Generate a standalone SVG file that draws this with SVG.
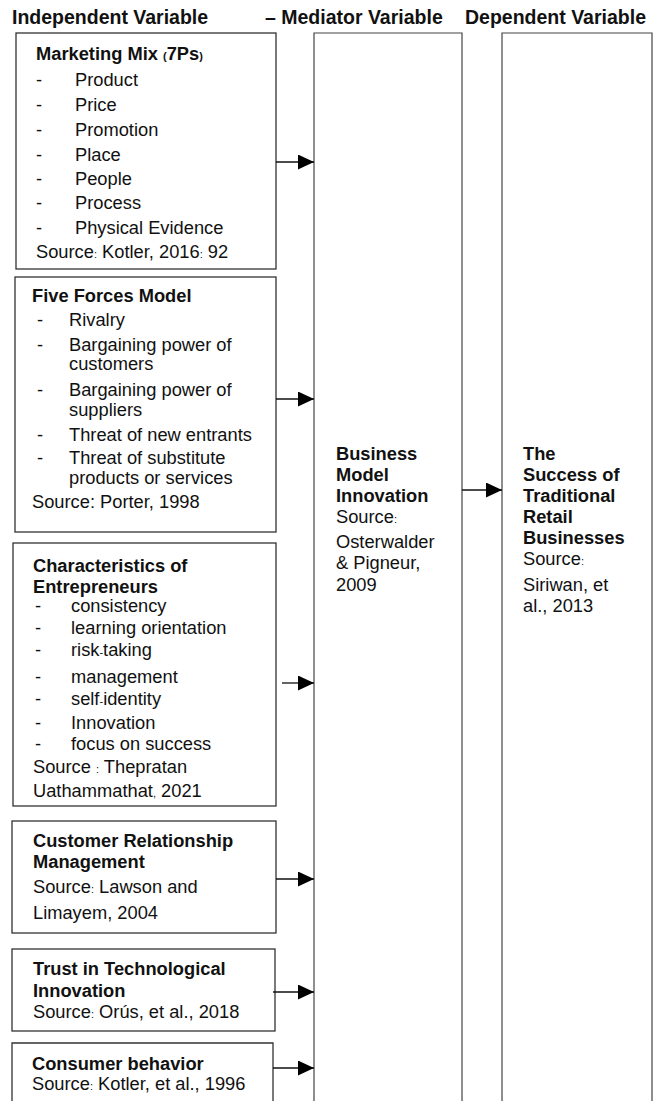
<svg xmlns="http://www.w3.org/2000/svg" width="657" height="1101" viewBox="0 0 657 1101">
  <style>
    text { font-family: "Liberation Sans", Arial, sans-serif; font-size: 18.3px; fill: #111; }
    .hd { font-size: 19.5px; font-weight: bold; }
    .b { font-weight: bold; }
    .sm { font-size: 11px; }
    .box { fill: #fff; stroke: #333; stroke-width: 1.3; }
    .col { fill: none; stroke: #444; stroke-width: 1.2; }
    .wire { fill: none; stroke: #111; stroke-width: 1.3; marker-end: url(#arrow); }
  </style>
  <defs>
    <marker id="arrow" markerUnits="userSpaceOnUse" markerWidth="17" markerHeight="16" refX="16" refY="7.5" orient="auto">
      <path d="M0,0 L16,7.5 L0,15 z" fill="#000"/>
    </marker>
  </defs>
  <rect width="657" height="1101" fill="#fff"/>

  <!-- column headings -->
  <g id="headings">
    <text class="hd" x="12" y="24">Independent Variable</text>
    <text class="hd" x="265" y="24">– Mediator Variable</text>
    <text class="hd" x="465" y="24">Dependent Variable</text>
  </g>

  <!-- independent variables -->
  <g id="marketing-mix">
    <rect class="box" x="16" y="33" width="260" height="236"/>
    <text class="b" x="36" y="60">Marketing Mix <tspan class="sm">(</tspan>7Ps<tspan class="sm">)</tspan></text>
    <text x="36" y="86">-</text><text x="75" y="86">Product</text>
    <text x="36" y="111">-</text><text x="75" y="111">Price</text>
    <text x="36" y="136">-</text><text x="75" y="136">Promotion</text>
    <text x="36" y="161">-</text><text x="75" y="161">Place</text>
    <text x="36" y="185">-</text><text x="75" y="185">People</text>
    <text x="36" y="209">-</text><text x="75" y="209">Process</text>
    <text x="36" y="234">-</text><text x="75" y="234">Physical Evidence</text>
    <text x="36" y="258">Source<tspan class="sm">:</tspan> Kotler, 2016<tspan class="sm">:</tspan> 92</text>
  </g>

  <g id="five-forces">
    <rect class="box" x="15" y="277" width="261" height="255"/>
    <text class="b" x="32" y="302">Five Forces Model</text>
    <text x="37" y="326">-</text><text x="69" y="326">Rivalry</text>
    <text x="37" y="351">-</text><text x="69" y="351">Bargaining power of</text>
    <text x="69" y="370">customers</text>
    <text x="37" y="396">-</text><text x="69" y="396">Bargaining power of</text>
    <text x="69" y="416">suppliers</text>
    <text x="37" y="441">-</text><text x="69" y="441">Threat of new entrants</text>
    <text x="37" y="464">-</text><text x="69" y="464">Threat of substitute</text>
    <text x="69" y="484">products or services</text>
    <text x="32" y="508">Source: Porter, 1998</text>
  </g>

  <g id="entrepreneurs">
    <rect class="box" x="13" y="543" width="263" height="263"/>
    <text class="b" x="33" y="572">Characteristics of</text>
    <text class="b" x="33" y="593">Entrepreneurs</text>
    <text x="35" y="612">-</text><text x="71" y="612">consistency</text>
    <text x="35" y="634">-</text><text x="71" y="634">learning orientation</text>
    <text x="35" y="656">-</text><text x="71" y="656">risk<tspan class="sm">-</tspan>taking</text>
    <text x="35" y="683">-</text><text x="71" y="683">management</text>
    <text x="35" y="705">-</text><text x="71" y="705">self<tspan class="sm">-</tspan>identity</text>
    <text x="35" y="729">-</text><text x="71" y="729">Innovation</text>
    <text x="35" y="750">-</text><text x="71" y="750">focus on success</text>
    <text x="33" y="773">Source <tspan class="sm">:</tspan> Thepratan</text>
    <text x="33" y="797">Uathammathat<tspan class="sm">,</tspan> 2021</text>
  </g>

  <g id="crm">
    <rect class="box" x="12" y="821" width="264" height="112"/>
    <text class="b" x="33" y="847">Customer Relationship</text>
    <text class="b" x="33" y="868">Management</text>
    <text x="33" y="893">Source<tspan class="sm">:</tspan> Lawson and</text>
    <text x="33" y="919">Limayem, 2004</text>
  </g>

  <g id="tech-trust">
    <rect class="box" x="12" y="949" width="263" height="82"/>
    <text class="b" x="33" y="975">Trust in Technological</text>
    <text class="b" x="33" y="997">Innovation</text>
    <text x="33" y="1018">Source<tspan class="sm">:</tspan> Orús, et al., 2018</text>
  </g>

  <g id="consumer-behavior">
    <path class="box" d="M12,1106 V1043 H273 V1106"/>
    <text class="b" x="32" y="1070">Consumer behavior</text>
    <text x="32" y="1090">Source<tspan class="sm">:</tspan> Kotler, et al., 1996</text>
  </g>

  <!-- mediator -->
  <g id="mediator">
    <path class="col" d="M314,1106 V33 H462 V1106"/>
    <text class="b" x="336" y="460">Business</text>
    <text class="b" x="336" y="481">Model</text>
    <text class="b" x="336" y="502">Innovation</text>
    <text x="336" y="523">Source<tspan class="sm">:</tspan></text>
    <text x="336" y="548">Osterwalder</text>
    <text x="336" y="569">&amp; Pigneur,</text>
    <text x="336" y="591">2009</text>
  </g>

  <!-- dependent -->
  <g id="dependent">
    <path class="col" d="M502,1106 V33 H652 V1106"/>
    <text class="b" x="523" y="460">The</text>
    <text class="b" x="523" y="481">Success of</text>
    <text class="b" x="523" y="502">Traditional</text>
    <text class="b" x="523" y="523">Retail</text>
    <text class="b" x="523" y="544">Businesses</text>
    <text x="523" y="565">Source<tspan class="sm">:</tspan></text>
    <text x="523" y="591">Siriwan, et</text>
    <text x="523" y="612">al., 2013</text>
  </g>

  <!-- connectors -->
  <g id="connectors">
    <path class="wire" d="M276,162 H314"/>
    <path class="wire" d="M276,399 H314"/>
    <path class="wire" d="M282,683 H314"/>
    <path class="wire" d="M276,879 H314"/>
    <path class="wire" d="M273,992 H314"/>
    <path class="wire" d="M273,1068 H314"/>
    <path class="wire" d="M462,490 H502"/>
  </g>
</svg>
